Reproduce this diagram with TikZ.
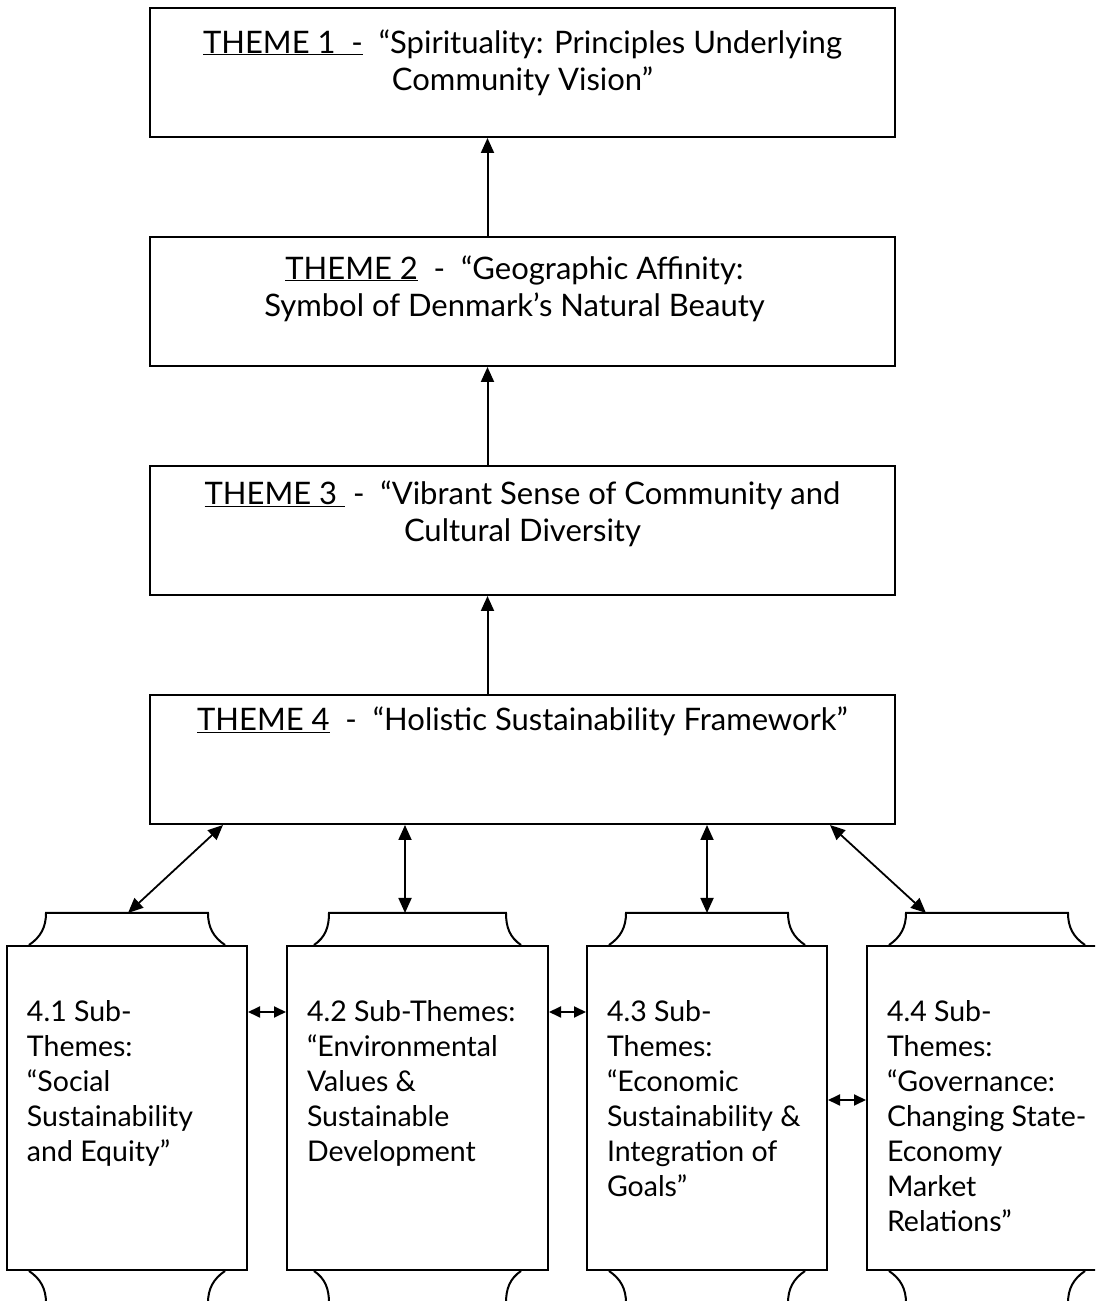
\documentclass[tikz,border=0pt]{standalone}
\usepackage{fontspec}
\setmainfont{Lato}
\usepackage{tikz}
\usetikzlibrary{arrows.meta, positioning}

% scroll ends above and below a sub-theme box: node, inset at the box, inset at the end
\newcommand{\scrollcaps}[3]{%
  \draw ([xshift=#2]#1.north west) to[out=34,in=-90] ([xshift=#3,yshift=32pt]#1.north west)
    -- ([xshift=-#3,yshift=32pt]#1.north east) to[out=-90,in=146] ([xshift=-#2]#1.north east);
  \draw ([xshift=#2]#1.south west) to[out=-34,in=90] ([xshift=#3,yshift=-32pt]#1.south west);
  \draw ([xshift=-#2]#1.south east) to[out=214,in=90] ([xshift=-#3,yshift=-32pt]#1.south east);
}

\begin{document}
\begin{tikzpicture}[
        x=1pt, y=1pt,
        node distance=98pt,
        line width=2pt,
        theme/.style={rectangle, draw=black, minimum width=745pt, minimum height=129pt, inner sep=0pt},
        ttext/.style={align=center, inner sep=0pt, font=\fontsize{31}{37}\selectfont},
        sub/.style={rectangle, draw=black, minimum width=240pt, minimum height=324pt, inner sep=0pt},
        stext/.style={align=left, anchor=north west, inner sep=0pt, font=\fontsize{28.5}{35}\selectfont},
        arrow/.style={-{Triangle[length=15pt,width=13pt]}, line width=2pt},
        both/.style={{Triangle[length=15pt,width=13pt]}-{Triangle[length=15pt,width=13pt]}, line width=1.8pt},
        small/.style={{Triangle[length=12pt,width=11pt]}-{Triangle[length=12pt,width=11pt]}, line width=1.8pt}
    ]
        \useasboundingbox (0,0) rectangle (1095,1301);
        \clip (0,0) rectangle (1095,1301);

        % Themes (one column)
        \node[theme] (t1) at (522.5,1228.5) {};
        \node[theme, below=of t1] (t2) {};
        \node[theme, below=of t2] (t3) {};
        \node[theme, below=of t3] (t4) {};

        \node[ttext] (t1txt) at ([yshift=10pt]t1.center) {\underline{THEME 1\ \ -}\ \ “Spirituality: Principles Underlying\\Community Vision”};
        \node[ttext] (t2txt) at ([xshift=-8pt,yshift=13pt]t2.center) {\underline{THEME 2}\ \ -\ \ “Geographic Affinity:\\Symbol of Denmark’s Natural Beauty};
        \node[ttext] (t3txt) at ([yshift=17pt]t3.center) {\underline{THEME 3\ }\ -\ \ “Vibrant Sense of Community and\\Cultural Diversity};
        \node[ttext] (t4txt) at ([yshift=38pt]t4.center) {\underline{THEME 4}\ \ -\ \ “Holistic Sustainability Framework”};

        % Sub-themes (one row)
        \node[sub] (s1) at (127,193) {};
        \node[sub, minimum width=261pt, right=38pt of s1] (s2) {};
        \node[sub, right=37pt of s2] (s3) {};
        \node[sub, right=38pt of s3] (s4) {};

        \scrollcaps{s1}{23pt}{40pt}
        \scrollcaps{s2}{28pt}{43pt}
        \scrollcaps{s3}{23pt}{40pt}
        \scrollcaps{s4}{23pt}{40pt}

        \coordinate (s1cap) at ([yshift=32pt]s1.north);
        \coordinate (s2cap) at ([yshift=32pt]s2.north);
        \coordinate (s3cap) at ([yshift=32pt]s3.north);
        \coordinate (s4cap) at ([yshift=32pt]s4.north);

        \node[stext] (s1txt) at ([xshift=20pt,yshift=-55pt]s1.north west) {4.1 Sub-\\Themes:\\“Social\\Sustainability\\and Equity”};
        \node[stext] (s2txt) at ([xshift=20pt,yshift=-55pt]s2.north west) {4.2 Sub-Themes:\\“Environmental\\Values \&\\Sustainable\\Development};
        \node[stext] (s3txt) at ([xshift=20pt,yshift=-55pt]s3.north west) {4.3 Sub-\\Themes:\\“Economic\\Sustainability \&\\Integration of\\Goals”};
        \node[stext] (s4txt) at ([xshift=20pt,yshift=-55pt]s4.north west) {4.4 Sub-\\Themes:\\“Governance:\\Changing State-\\Economy\\Market\\Relations”};

        % Connections
        % Theme path
        \draw[arrow] ([xshift=-35pt]t2.north) -- ([xshift=-35pt]t1.south);
        \draw[arrow] ([xshift=-35pt]t3.north) -- ([xshift=-35pt]t2.south);
        \draw[arrow] ([xshift=-35pt]t4.north) -- ([xshift=-35pt]t3.south);

        % Theme 4 to sub-themes
        \draw[both] ([xshift=74pt]t4.south west) -- ([xshift=1pt]s1cap);
        \draw[both] ([xshift=256pt]t4.south west) -- ([xshift=256pt]t4.south west |- s2cap);
        \draw[both] ([xshift=558pt]t4.south west) -- ([xshift=558pt]t4.south west |- s3cap);
        \draw[both] ([xshift=681pt]t4.south west) -- ([xshift=-61pt]s4cap);

        % Between sub-themes
        \draw[small] ([yshift=96pt]s1.east) -- ([yshift=96pt]s2.west);
        \draw[small] ([yshift=96pt]s2.east) -- ([yshift=96pt]s3.west);
        \draw[small] ([yshift=8pt]s3.east) -- ([yshift=8pt]s4.west);

    \end{tikzpicture}
\end{document}
